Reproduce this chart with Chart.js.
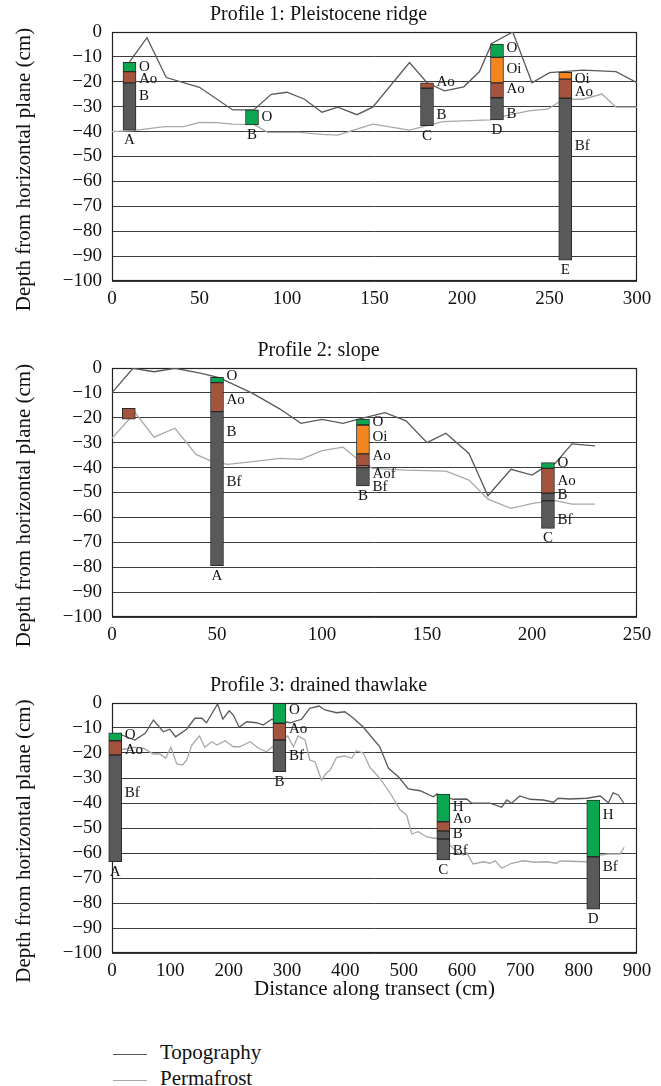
<!DOCTYPE html>
<html>
<head>
<meta charset="utf-8">
<title>Soil profiles along transects</title>
<script src="https://cdn.jsdelivr.net/npm/chart.js@4.4.1/dist/chart.umd.min.js"></script>
<style>
  body { margin: 0; background: #fff; }
  #wrap { position: relative; width: 661px; height: 1086px; font-family: 'Liberation Serif', serif; }
  canvas { position: absolute; left: 0; }
  #legend { position: absolute; left: 113px; top: 1039px; font-size: 21px; color: #111; }
  #legend div { height: 26px; line-height: 26px; white-space: nowrap; }
  #legend span.line { display: inline-block; width: 34px; height: 0; vertical-align: middle; margin-right: 13px; border-top: 1.3px solid; }
</style>
</head>
<body>
<div id="wrap">
  <canvas id="profile1" width="661" height="311" style="top:0px"></canvas>
  <canvas id="profile2" width="661" height="311" style="top:336px"></canvas>
  <canvas id="profile3" width="661" height="332" style="top:671px"></canvas>
  <div id="legend">
    <div><span class="line" style="border-color:#595959"></span>Topography</div>
    <div><span class="line" style="border-color:#a8a8a8"></span>Permafrost</div>
  </div>
</div>
<script>
// ---- Profile 1: Pleistocene ridge ----
const p1TopoX = [10, 20, 31, 50, 69, 81, 91, 100, 110, 120, 129, 140, 149, 170, 180, 190, 201, 210, 217, 229, 240, 250, 269, 288, 300];
const p1TopoY = [-12, -2.3, -18.3, -22.2, -31.3, -31.3, -25, -24.2, -27, -32.2, -30.2, -33.2, -30.2, -12.3, -20.4, -23.6, -22, -15.9, -4.6, 0, -20.4, -16.3, -15.3, -15.9, -20.4];
const p1PermX = [0, 12, 30, 41, 50, 60, 69, 81, 89, 107, 120, 129, 149, 170, 189, 216, 227, 239, 249, 258, 269, 280, 288, 300];
const p1PermY = [-40, -39.6, -38, -38, -36.3, -36.4, -37, -37.1, -40.3, -40.3, -41.1, -41.4, -37, -39.4, -36, -35.3, -33.3, -31.6, -31, -27, -27, -24.9, -30.2, -30.2];
const p1Sites = ['A', 'B', 'C', 'D', 'E'];
const p1SiteX = [10, 80, 180, 220, 259];
const p1Horizons = [['O', 'Ao', 'B'], ['O'], ['Ao', 'B'], ['O', 'Oi', 'Ao', 'B'], ['Oi', 'Ao', 'B']];
const p1Depths = [[-12.2, -15.9, -20.4, -39.4], [-31.3, -37.3], [-20.4, -22.6, -37.6], [-4.9, -10.2, -20.4, -26.4, -35.3], [-16.2, -18.9, -26.6, -91.6]];
const p1Names = [['O', 'Ao', 'B'], ['O'], ['Ao', 'B'], ['O', 'Oi', 'Ao', 'B'], ['Oi', 'Ao', 'Bf']];
const p1NameDepth = [[-13.9, -19, -25.7], [-34], [-20, -33.3], [-6.3, -15, -23, -33], [-18.9, -24.2, -45.7]];

// ---- Profile 2: slope ----
const p2TopoX = [0, 10, 20, 30, 42, 51, 67, 80, 90, 100, 110, 117, 130, 140, 150, 159, 170, 179, 190, 200, 205, 211, 219, 230];
const p2TopoY = [-9.9, -0.1, -1.5, -0.1, -2.1, -3.9, -10.2, -16.5, -22.2, -20.6, -22.2, -20.6, -17.9, -21.2, -30, -26.2, -34.3, -51.3, -40.7, -43, -40.3, -38.3, -30.5, -31.3];
const p2PermX = [0, 11, 20, 30, 40, 47, 55, 67, 80, 90, 100, 110, 116, 124, 140, 159, 170, 179, 190, 201, 211, 219, 230];
const p2PermY = [-28.2, -17.9, -27.8, -24.2, -34.7, -37.3, -38.7, -37.6, -36.3, -36.7, -33.2, -31.8, -35.9, -40.3, -41, -41.4, -45, -52.7, -56.4, -54.3, -53.3, -54.7, -54.7];
const p2Sites = ['', 'A', 'B', 'C'];
const p2SiteX = [8, 50, 119.5, 207.6];
const p2Horizons = [['Ao'], ['O', 'Ao', 'B'], ['O', 'Oi', 'Ao', 'Ao', 'B'], ['O', 'Ao', 'B', 'B']];
const p2Depths = [[-16.2, -20.5], [-3.7, -5.9, -17.5, -79.4], [-20.5, -22.9, -34.5, -39.2, -40, -47.4], [-38, -40.3, -50.3, -53.3, -64.4]];
const p2Names = [[], ['O', 'Ao', 'B', 'Bf'], ['O', 'Oi', 'Ao', 'Aof', 'Bf'], ['O', 'Ao', 'B', 'Bf']];
const p2NameDepth = [[], [-3.1, -12.9, -25.6, -45.7], [-21.6, -27.8, -35.3, -42.6, -47.7], [-38, -45.4, -51, -61]];

// ---- Profile 3: drained thawlake ----
const p3TopoX = [17, 39, 57, 71, 88, 99, 109, 128, 142, 154, 162, 181, 190, 201, 208, 218, 231, 248, 259, 274, 305, 325, 339, 355, 365, 385, 399, 414, 431, 459, 474, 491, 508, 528, 551, 557, 585, 608, 617, 648, 668, 677, 685, 699, 717, 739, 757, 765, 785, 814, 837, 851, 859, 868, 877];
const p3TopoY = [-12.8, -14.8, -12.1, -6.8, -11.5, -10.5, -13.5, -10.5, -6.1, -6.1, -7.9, -0.4, -6.5, -3.1, -4.8, -9.7, -7.5, -7.9, -8.8, -6.5, -7.9, -6.5, -2.1, -1.2, -2.8, -3.9, -3.5, -6.1, -9.7, -17.5, -26.1, -29.5, -34.4, -35.1, -37.5, -36.4, -38.5, -38.4, -40.1, -40.1, -41.7, -38.8, -40.1, -37.2, -38.5, -38.8, -39.7, -38.1, -38.4, -38.1, -37.2, -39.9, -35.9, -36.8, -39.9];
const p3PermX = [12, 39, 54, 71, 82, 92, 101, 111, 121, 128, 137, 150, 159, 171, 180, 194, 208, 219, 237, 251, 265, 274, 301, 311, 319, 331, 339, 348, 359, 368, 374, 385, 399, 411, 419, 431, 442, 459, 477, 494, 505, 514, 525, 539, 551, 557, 579, 594, 602, 608, 619, 637, 648, 657, 668, 685, 705, 725, 745, 762, 768, 814, 837, 851, 871, 878];
const p3PermY = [-18.8, -17.7, -18.1, -20.4, -20.4, -22.1, -17.7, -24.4, -24.8, -22.8, -16.8, -13.2, -17.7, -15.5, -16.8, -15.1, -17.5, -17.5, -15.5, -18.1, -19.5, -17.7, -13.2, -17.5, -13.2, -14.8, -22.8, -23.5, -30.8, -27.9, -26.8, -21.7, -21.2, -22.1, -19.1, -20.1, -25.7, -30.1, -36.1, -42.8, -44.8, -52.4, -51.5, -53.5, -54.1, -54.1, -56.8, -60.1, -60.8, -59.9, -64.4, -63.5, -64.1, -63.1, -66.1, -64.1, -63.1, -63.7, -63.5, -64.1, -63.2, -63.5, -60.8, -60.4, -60.4, -57.7];
const p3Sites = ['A', 'B', 'C', 'D'];
const p3SiteX = [5.5, 287, 568, 825];
const p3Horizons = [['O', 'Ao', 'B'], ['O', 'Ao', 'B'], ['H', 'Ao', 'B', 'B'], ['H', 'B']];
const p3Depths = [[-11.9, -15.1, -20.8, -63.5], [-0.1, -8.1, -14.8, -27.5], [-36.4, -47.5, -51.2, -54.4, -62.8], [-38.8, -61.5, -82.5]];
const p3Names = [['O', 'Ao', 'Bf'], ['O', 'Ao', 'Bf'], ['H', 'Ao', 'B', 'Bf'], ['H', 'Bf']];
const p3NameDepth = [[-12.8, -18.8, -36.1], [-2.8, -10.5, -21.2], [-41.5, -46.4, -52.5, -59.1], [-44.8, -65.5]];

const depthTicks = [0, -10, -20, -30, -40, -50, -60, -70, -80, -90, -100];

// horizon fill colours
const horizonColours = { O: '#0aa650', H: '#0aa650', Oi: '#f5861f', Ao: '#a4533d', B: '#58595b' };

const FONT = "'Liberation Serif', serif";
Chart.defaults.font.family = FONT;
Chart.defaults.color = '#111';

const BAR_W = 13;
const Y_TITLE = 'Depth from horizontal plane (cm)';

function toPoints(xs, ys) {
    return xs.map((x, i) => ({ x: x, y: ys[i] }));
}

// frame round the plot, horizon / site names and the depth title
function profilePlugin(p) {
    return {
        id: 'profileText',
        beforeDatasetsDraw(chart) {
            const { ctx, chartArea: a } = chart;
            ctx.save();
            ctx.strokeStyle = '#222';
            ctx.lineWidth = 1.2;
            ctx.strokeRect(a.left + 0.5, a.top + 0.5, a.right - a.left - 1, a.bottom - a.top - 1);
            ctx.restore();
        },
        afterDatasetsDraw(chart) {
            const { ctx, chartArea: a } = chart;
            const xs = chart.scales.x, ys = chart.scales.y;
            ctx.save();
            ctx.fillStyle = '#111';
            ctx.font = '15px ' + FONT;
            ctx.textBaseline = 'middle';
            p.siteX.forEach((sx, i) => {
                const px = xs.getPixelForValue(sx);
                ctx.textAlign = 'left';
                p.names[i].forEach((n, k) => {
                    ctx.fillText(n, px + BAR_W / 2 + 3, ys.getPixelForValue(p.nameDepth[i][k]));
                });
                const d = p.depths[i];
                ctx.textAlign = 'center';
                ctx.fillText(p.sites[i], px, ys.getPixelForValue(d[d.length - 1]) + 10);
            });

            // axis title, sits a little below the middle of the plot
            ctx.font = '21px ' + FONT;
            ctx.translate(24, (a.top + a.bottom) / 2 + 13);
            ctx.rotate(-Math.PI / 2);
            ctx.textAlign = 'center';
            ctx.fillText(Y_TITLE, 0, 0);
            ctx.restore();
        }
    };
}

function buildProfile(id, p) {
    const bars = [];
    const colours = [];
    p.depths.forEach((d, i) => {
        for (let k = 0; k < d.length - 1; k++) {
            bars.push({ x: p.siteX[i], y: [d[k], d[k + 1]] });
            colours.push(horizonColours[p.horizons[i][k]]);
        }
    });

    new Chart(document.getElementById(id), {
        type: 'bar',
        data: {
            datasets: [
                {
                    type: 'bar',
                    data: bars,
                    backgroundColor: colours,
                    borderColor: '#2a2a2a',
                    borderWidth: 1,
                    borderSkipped: false,
                    barThickness: BAR_W,
                    clip: false,
                    order: 0
                },
                {
                    type: 'line',
                    label: 'Topography',
                    data: toPoints(p.topoX, p.topoY),
                    borderColor: '#595959',
                    borderWidth: 1.3,
                    pointRadius: 0,
                    tension: 0,
                    order: 1
                },
                {
                    type: 'line',
                    label: 'Permafrost',
                    data: toPoints(p.permX, p.permY),
                    borderColor: '#a8a8a8',
                    borderWidth: 1.3,
                    pointRadius: 0,
                    tension: 0,
                    order: 2
                }
            ]
        },
        options: {
            responsive: false,
            animation: false,
            layout: { padding: { left: 0, right: 24, top: 0, bottom: 0 } },
            plugins: {
                legend: { display: false },
                tooltip: { enabled: false },
                title: {
                    display: true,
                    text: p.title,
                    font: { size: 20, weight: 'normal', lineHeight: 1.2 },
                    color: '#111',
                    padding: { top: 3, bottom: 5 }
                }
            },
            scales: {
                x: {
                    type: 'linear',
                    min: 0,
                    max: p.xMax,
                    offset: false,
                    grid: { display: false, drawTicks: false },
                    border: { display: false },
                    ticks: { stepSize: p.xStep, padding: 7, font: { size: 19 }, color: '#111', maxRotation: 0, autoSkip: false },
                    title: {
                        display: !!p.xTitle,
                        text: p.xTitle || '',
                        font: { size: 21 },
                        color: '#111',
                        padding: { top: 2, bottom: 1 }
                    },
                    afterFit: s => { s.height = p.xAxisHeight; }
                },
                y: {
                    min: -100,
                    max: 0,
                    afterBuildTicks: s => { s.ticks = depthTicks.map(v => ({ value: v })); },
                    grid: { color: '#3c3c3c', lineWidth: 1, drawTicks: false },
                    border: { display: false },
                    ticks: {
                        padding: 10,
                        autoSkip: false,
                        font: { size: 19 },
                        color: '#111',
                        callback: v => v === 0 ? '0' : '\u2212' + Math.abs(v)
                    },
                    afterFit: s => { s.width = 112; }
                }
            }
        },
        plugins: [profilePlugin(p)]
    });
}

buildProfile('profile1', {
    title: 'Profile 1: Pleistocene ridge', xMax: 300, xStep: 50, xAxisHeight: 30,
    topoX: p1TopoX, topoY: p1TopoY, permX: p1PermX, permY: p1PermY,
    sites: p1Sites, siteX: p1SiteX, horizons: p1Horizons, depths: p1Depths,
    names: p1Names, nameDepth: p1NameDepth
});

buildProfile('profile2', {
    title: 'Profile 2: slope', xMax: 250, xStep: 50, xAxisHeight: 30,
    topoX: p2TopoX, topoY: p2TopoY, permX: p2PermX, permY: p2PermY,
    sites: p2Sites, siteX: p2SiteX, horizons: p2Horizons, depths: p2Depths,
    names: p2Names, nameDepth: p2NameDepth
});

buildProfile('profile3', {
    title: 'Profile 3: drained thawlake', xMax: 900, xStep: 100, xAxisHeight: 50,
    xTitle: 'Distance along transect (cm)',
    topoX: p3TopoX, topoY: p3TopoY, permX: p3PermX, permY: p3PermY,
    sites: p3Sites, siteX: p3SiteX, horizons: p3Horizons, depths: p3Depths,
    names: p3Names, nameDepth: p3NameDepth
});
</script>
</body>
</html>
